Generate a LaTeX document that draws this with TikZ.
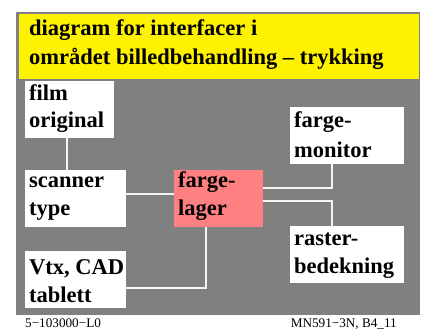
\documentclass[tikz,border=0pt]{standalone}
\usepackage{fontspec}
\setmainfont{Liberation Serif}
\begin{document}
\begin{tikzpicture}[x=1pt,y=-1pt,
  box/.style={draw=none,fill=white,inner sep=0pt,anchor=north west},
  big/.style={font=\fontsize{22.5}{27}\selectfont\bfseries,anchor=base west,inner sep=0pt},
  small/.style={font=\fontsize{13.2}{15}\selectfont,anchor=base west,inner sep=0pt},
  wire/.style={draw=white!92!gray,line width=1.8pt}]
\useasboundingbox (0,0) rectangle (424,332);
\fill[gray] (16,12) rectangle (420,315);
\fill[yellow] (19,14) rectangle (419,79);
\node[big] (t1) at (29,35) {diagram for interfacer i};
\node[big] (t2) at (29,64) {området billedbehandling – trykking};
% boxes
\node[box,minimum width=89pt,minimum height=57pt] (film) at (25,81) {};
\node[box,minimum width=114pt,minimum height=57pt] (mon) at (290,107) {};
\node[box,minimum width=101pt,minimum height=57pt] (scan) at (25,170) {};
\node[box,fill={rgb,255:red,255;green,128;blue,128},minimum width=89pt,minimum height=57pt] (lager) at (174,170) {};
\node[box,minimum width=114pt,minimum height=57pt] (raster) at (290,226) {};
\node[box,minimum width=101pt,minimum height=57pt] (vtx) at (25,251) {};
% wires
\draw[wire] (film.south -| 67,0) -- (scan.north -| 67,0);
\draw[wire] (scan.east |- 0,194) -- (lager.west |- 0,194);
\draw[wire] (lager.east |- 0,188) -| (mon.south -| 332,0);
\draw[wire] (lager.east |- 0,201) -| (raster.north -| 332,0);
\draw[wire] (lager.south -| 206,0) |- (vtx.east |- 0,288);
% texts
\node[big] (f1) at (29,100) {film};
\node[big] (f2) at (29,128) {original};
\node[big] (m1) at (294,128) {farge-};
\node[big] (m2) at (294,157) {monitor};
\node[big] (s1) at (29,187) {scanner};
\node[big] (s2) at (29,215) {type};
\node[big] (l1) at (178,187) {farge-};
\node[big] (l2) at (178,215) {lager};
\node[big] (r1) at (294,245) {raster-};
\node[big] (r2) at (294,273) {bedekning};
\node[big] (v1) at (29,274) {Vtx, CAD};
\node[big] (v2) at (29,302) {tablett};
\node[small] (fl) at (25,327) {5−103000−L0};
\node[small,anchor=base east] (fr) at (397,327) {MN591−3N, B4\_11};
\end{tikzpicture}
\end{document}
